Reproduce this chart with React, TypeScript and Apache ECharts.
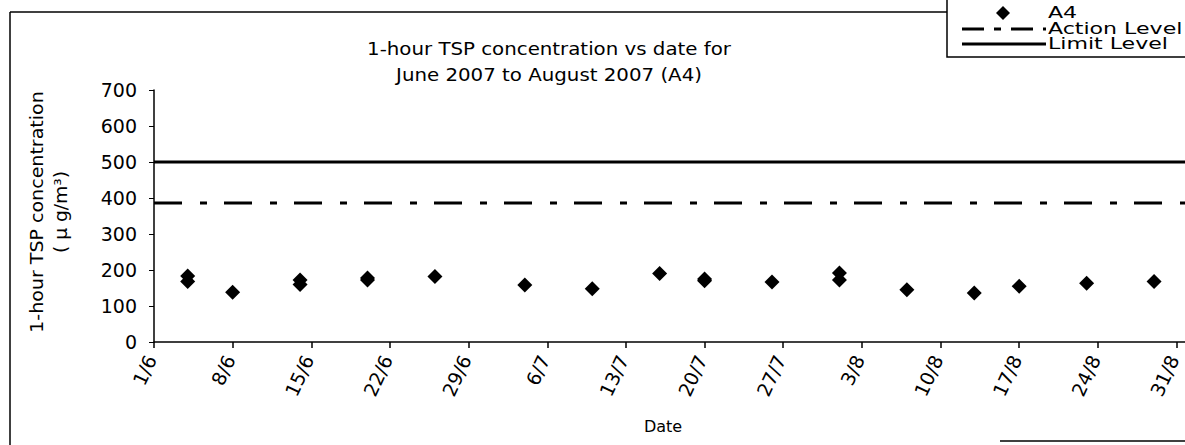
import React, { useEffect, useRef } from "react";
import * as echarts from "echarts";

// ---- data ----
const xTickLabels = ["1/6", "8/6", "15/6", "22/6", "29/6", "6/7", "13/7", "20/7", "27/7", "3/8", "10/8", "17/8", "24/8", "31/8"];
const a4Dates = ["4/6", "4/6", "8/6", "14/6", "14/6", "20/6", "20/6", "26/6", "4/7", "10/7", "16/7", "20/7", "20/7", "26/7", "1/8", "1/8", "7/8", "13/8", "17/8", "23/8", "29/8"];
const a4Values = [183, 168, 138, 172, 160, 178, 172, 182, 158, 148, 190, 175, 170, 167, 192, 172, 145, 136, 155, 163, 168];
const actionLevel = 386;
const limitLevel = 500;
const yTicks = [0, 100, 200, 300, 400, 500, 600, 700];

const FONT = "DejaVu Sans";
const X_MIN = 0;
const X_MAX = 93;

function dayOffset(d: string): number {
  const [day, month] = d.split("/").map(Number);
  if (month === 6) return day - 1;
  if (month === 7) return 29 + day;
  return 60 + day;
}

export default function App() {
  const ref = useRef<HTMLDivElement>(null);
  useEffect(() => {
    if (!ref.current) return;
    const chart = echarts.init(ref.current, null, { renderer: "svg" });
    const dash = [28, 18, 7, 17];
    chart.setOption({
      animation: false,
      backgroundColor: "#ffffff",
      grid: { left: 154, top: 90, height: 252, width: 1045, containLabel: false },
      xAxis: {
        type: "value",
        min: X_MIN,
        max: X_MAX,
        interval: 7,
        axisLine: { show: true, onZero: false, lineStyle: { color: "#000", width: 1.5 } },
        axisTick: { show: true, length: 6, lineStyle: { color: "#000", width: 1.5 } },
        splitLine: { show: false },
        axisLabel: {
          show: true,
          showMaxLabel: false,
          rotate: 65,
          margin: 8,
          padding: [0, 7, 0, 0],
          color: "#000",
          fontFamily: FONT,
          fontSize: 19,
          formatter: (v: number) => (v % 7 === 0 ? xTickLabels[v / 7] ?? "" : ""),
        },
      },
      yAxis: {
        type: "value",
        min: yTicks[0],
        max: yTicks[yTicks.length - 1],
        interval: 100,
        axisLine: { show: true, lineStyle: { color: "#000", width: 1.5 } },
        axisTick: { show: true, length: 5, lineStyle: { color: "#000", width: 1 } },
        splitLine: { show: false },
        axisLabel: { color: "#000", fontFamily: FONT, fontSize: 19, margin: 17 },
      },
      series: [
        {
          name: "Limit Level",
          type: "line",
          data: [[X_MIN, limitLevel], [X_MAX, limitLevel]],
          symbol: "none",
          lineStyle: { color: "#000", width: 3 },
        },
        {
          name: "Action Level",
          type: "line",
          data: [[X_MIN, actionLevel], [X_MAX, actionLevel]],
          symbol: "none",
          lineStyle: { color: "#000", width: 3, type: dash },
        },
        {
          name: "A4",
          type: "scatter",
          data: a4Dates.map((d, i) => [dayOffset(d), a4Values[i]]),
          symbol: "diamond",
          symbolSize: 15,
          itemStyle: { color: "#000", opacity: 1 },
        },
      ],
      graphic: [
        // outer frame
        { type: "line", shape: { x1: 10, y1: 12, x2: 1240, y2: 12 }, style: { stroke: "#000", lineWidth: 1.5 } },
        { type: "line", shape: { x1: 10, y1: 12, x2: 10, y2: 445 }, style: { stroke: "#000", lineWidth: 1.5 } },
        { type: "line", shape: { x1: 1000, y1: 441, x2: 1240, y2: 441 }, style: { stroke: "#000", lineWidth: 1.5 } },
        // title
        {
          type: "text", x: 549, y: 48, scaleX: 1.1,
          style: { text: "1-hour TSP concentration vs date for", fontFamily: FONT, fontSize: 18, fill: "#000", align: "center", verticalAlign: "middle" },
        },
        {
          type: "text", x: 549, y: 74, scaleX: 1.1,
          style: { text: "June 2007 to August 2007 (A4)", fontFamily: FONT, fontSize: 18, fill: "#000", align: "center", verticalAlign: "middle" },
        },
        // y axis title
        {
          type: "text", x: 37, y: 212, rotation: Math.PI / 2, scaleX: 1.12,
          style: { text: "1-hour TSP concentration", fontFamily: FONT, fontSize: 17, fill: "#000", align: "center", verticalAlign: "middle" },
        },
        {
          type: "text", x: 61, y: 212, rotation: Math.PI / 2, scaleX: 1.1,
          style: { text: "( μ g/m³)", fontFamily: FONT, fontSize: 17, fill: "#000", align: "center", verticalAlign: "middle" },
        },
        // x axis title
        {
          type: "text", x: 663, y: 426,
          style: { text: "Date", fontFamily: FONT, fontSize: 16, fill: "#000", align: "center", verticalAlign: "middle" },
        },
        // legend box
        { type: "rect", shape: { x: 947, y: -5, width: 300, height: 62 }, style: { fill: "#fff", stroke: "#000", lineWidth: 1.5 }, z: 10 },
        { type: "polygon", shape: { points: [[1003, 6], [1010, 13], [1003, 20], [996, 13]] }, style: { fill: "#000" }, z: 11 },
        { type: "line", shape: { x1: 962, y1: 29, x2: 1046, y2: 29 }, style: { stroke: "#000", lineWidth: 3, lineDash: [22, 10, 7, 10] }, z: 11 },
        { type: "line", shape: { x1: 962, y1: 44, x2: 1046, y2: 44 }, style: { stroke: "#000", lineWidth: 3 }, z: 11 },
        {
          type: "text", x: 1048, y: 13, scaleX: 1.38, z: 11,
          style: { text: "A4", fontFamily: FONT, fontSize: 16, fill: "#000", align: "left", verticalAlign: "middle" },
        },
        {
          type: "text", x: 1048, y: 29, scaleX: 1.38, z: 11,
          style: { text: "Action Level", fontFamily: FONT, fontSize: 16, fill: "#000", align: "left", verticalAlign: "middle" },
        },
        {
          type: "text", x: 1048, y: 44, scaleX: 1.38, z: 11,
          style: { text: "Limit Level", fontFamily: FONT, fontSize: 16, fill: "#000", align: "left", verticalAlign: "middle" },
        },
      ],
    });
    return () => chart.dispose();
  }, []);

  return (
    <div style={{ position: "absolute", left: 0, top: 0, width: 1185, height: 445, overflow: "hidden", background: "#fff" }}>
      <div ref={ref} style={{ width: 1240, height: 445 }} />
    </div>
  );
}
